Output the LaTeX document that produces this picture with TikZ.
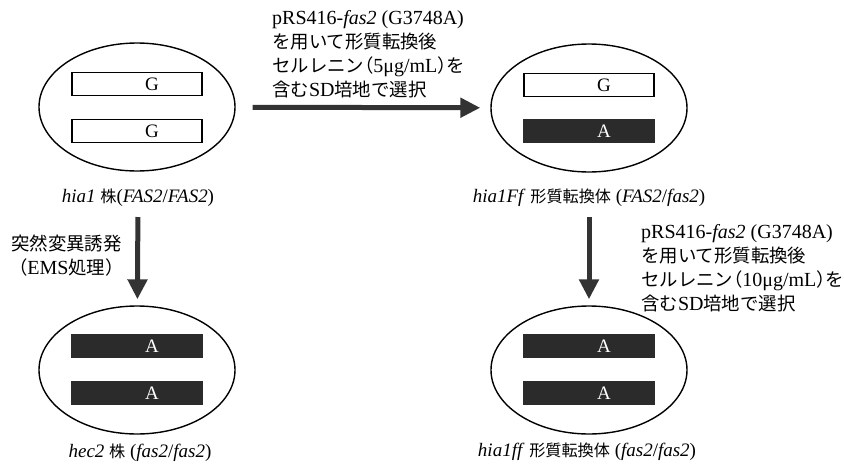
\documentclass[tikz,border=0pt]{standalone}
\usepackage{fontspec}
\setmainfont{Liberation Serif}
\newfontfamily\jp[Scale=0.92]{Noto Sans CJK JP}
\newfontfamily\jphalt[Scale=0.92,RawFeature={+halt}]{Noto Sans CJK JP}
\newfontfamily\jpcap[Scale=0.85]{Noto Sans CJK JP}
\usetikzlibrary{shapes.geometric,arrows.meta,positioning}
\definecolor{BarDark}{HTML}{2B2B2B}
\definecolor{ArrowDark}{HTML}{333333}
\newcommand{\ja}[1]{{\jp #1}}
\newcommand{\jah}[1]{{\jphalt #1}}
\newcommand{\jac}[1]{{\jpcap #1}}
\tikzset{
  cell/.style={ellipse,draw,line width=1.4pt,minimum width=196pt,minimum height=128pt,inner sep=0pt},
  wtbar/.style={rectangle,draw,line width=1.3pt,fill=white,minimum width=130pt,minimum height=23pt,inner sep=0pt},
  mutbar/.style={rectangle,draw=BarDark,line width=1.3pt,fill=BarDark,minimum width=130pt,minimum height=23pt,inner sep=0pt},
  allele/.style={xshift=15pt,font=\fontsize{19}{19}\selectfont},
  caption/.style={font=\fontsize{19}{22}\selectfont,inner sep=0pt},
  steptext/.style={align=left,font=\fontsize{20}{24}\selectfont,inner sep=0pt,anchor=north west},
  bigarrow/.style={-{Triangle[width=19pt,length=20pt]},line width=5pt,color=ArrowDark},
}
\begin{document}
\begin{tikzpicture}[x=1pt,y=-1pt]
  \useasboundingbox (0,0) rectangle (844,466);
  % cells
  \node[cell] (hia1) at (137,107) {};
  \node[cell] (hia1Ff) at (589,108) {};
  \node[cell] (hec2) at (137,370) {};
  \node[cell] (hia1ff) at (589,370) {};

  % alleles
  \node[wtbar, label={[allele]center:G}] (hia1a) at (137,84) {};
  \node[wtbar, label={[allele]center:G}] (hia1b) at (137,131) {};
  \node[wtbar, label={[allele]center:G}] (hia1Ffa) at (589,85) {};
  \node[mutbar, label={[allele,text=white]center:A}] (hia1Ffb) at (589,131) {};
  \node[mutbar, label={[allele,text=white]center:A}] (hec2a) at (137,346) {};
  \node[mutbar, label={[allele,text=white]center:A}] (hec2b) at (137,393) {};
  \node[mutbar, label={[allele,text=white]center:A}] (hia1ffa) at (589,346) {};
  \node[mutbar, label={[allele,text=white]center:A}] (hia1ffb) at (589,393) {};

  % captions
  \node[caption] (hia1lbl) at (138,198) {\textit{hia1} \jac{株}(\textit{FAS2}/\textit{FAS2})};
  \node[caption] (hia1Fflbl) at (589,198) {\textit{hia1Ff} \jac{形質転換体} (\textit{FAS2}/\textit{fas2})};
  \node[caption] (hec2lbl) at (140,453) {\textit{hec2} \jac{株} (\textit{fas2}/\textit{fas2})};
  \node[caption] (hia1fflbl) at (587,452) {\textit{hia1ff} \jac{形質転換体} (\textit{fas2}/\textit{fas2})};

  % steps
  \draw[bigarrow, shorten <=17pt, shorten >=10pt] (hia1) -- (hia1Ff);
  \draw[bigarrow, shorten <=10pt, shorten >=6pt] (hia1lbl) -- (hec2);
  \draw[bigarrow, shorten <=10pt, shorten >=6pt] (hia1Fflbl) -- (hia1ff);

  \node[steptext] (trans1) at (272,10) {pRS416-\textit{fas2} (G3748A)\\\ja{を用いて形質転換後}\\\jah{セルレニン（}5μg/mL\jah{）を}\\\ja{含む}SD\ja{培地で選択}};
  \node[steptext, anchor=north east, align=center] (ems) at (124,235) {\ja{突然変異誘発}\\\ja{（}EMS\ja{処理）}};
  \node[steptext] (trans2) at (641,224) {pRS416-\textit{fas2} (G3748A)\\\ja{を用いて形質転換後}\\\jah{セルレニン（}10μg/mL\jah{）を}\\\ja{含む}SD\ja{培地で選択}};
\end{tikzpicture}
\end{document}
